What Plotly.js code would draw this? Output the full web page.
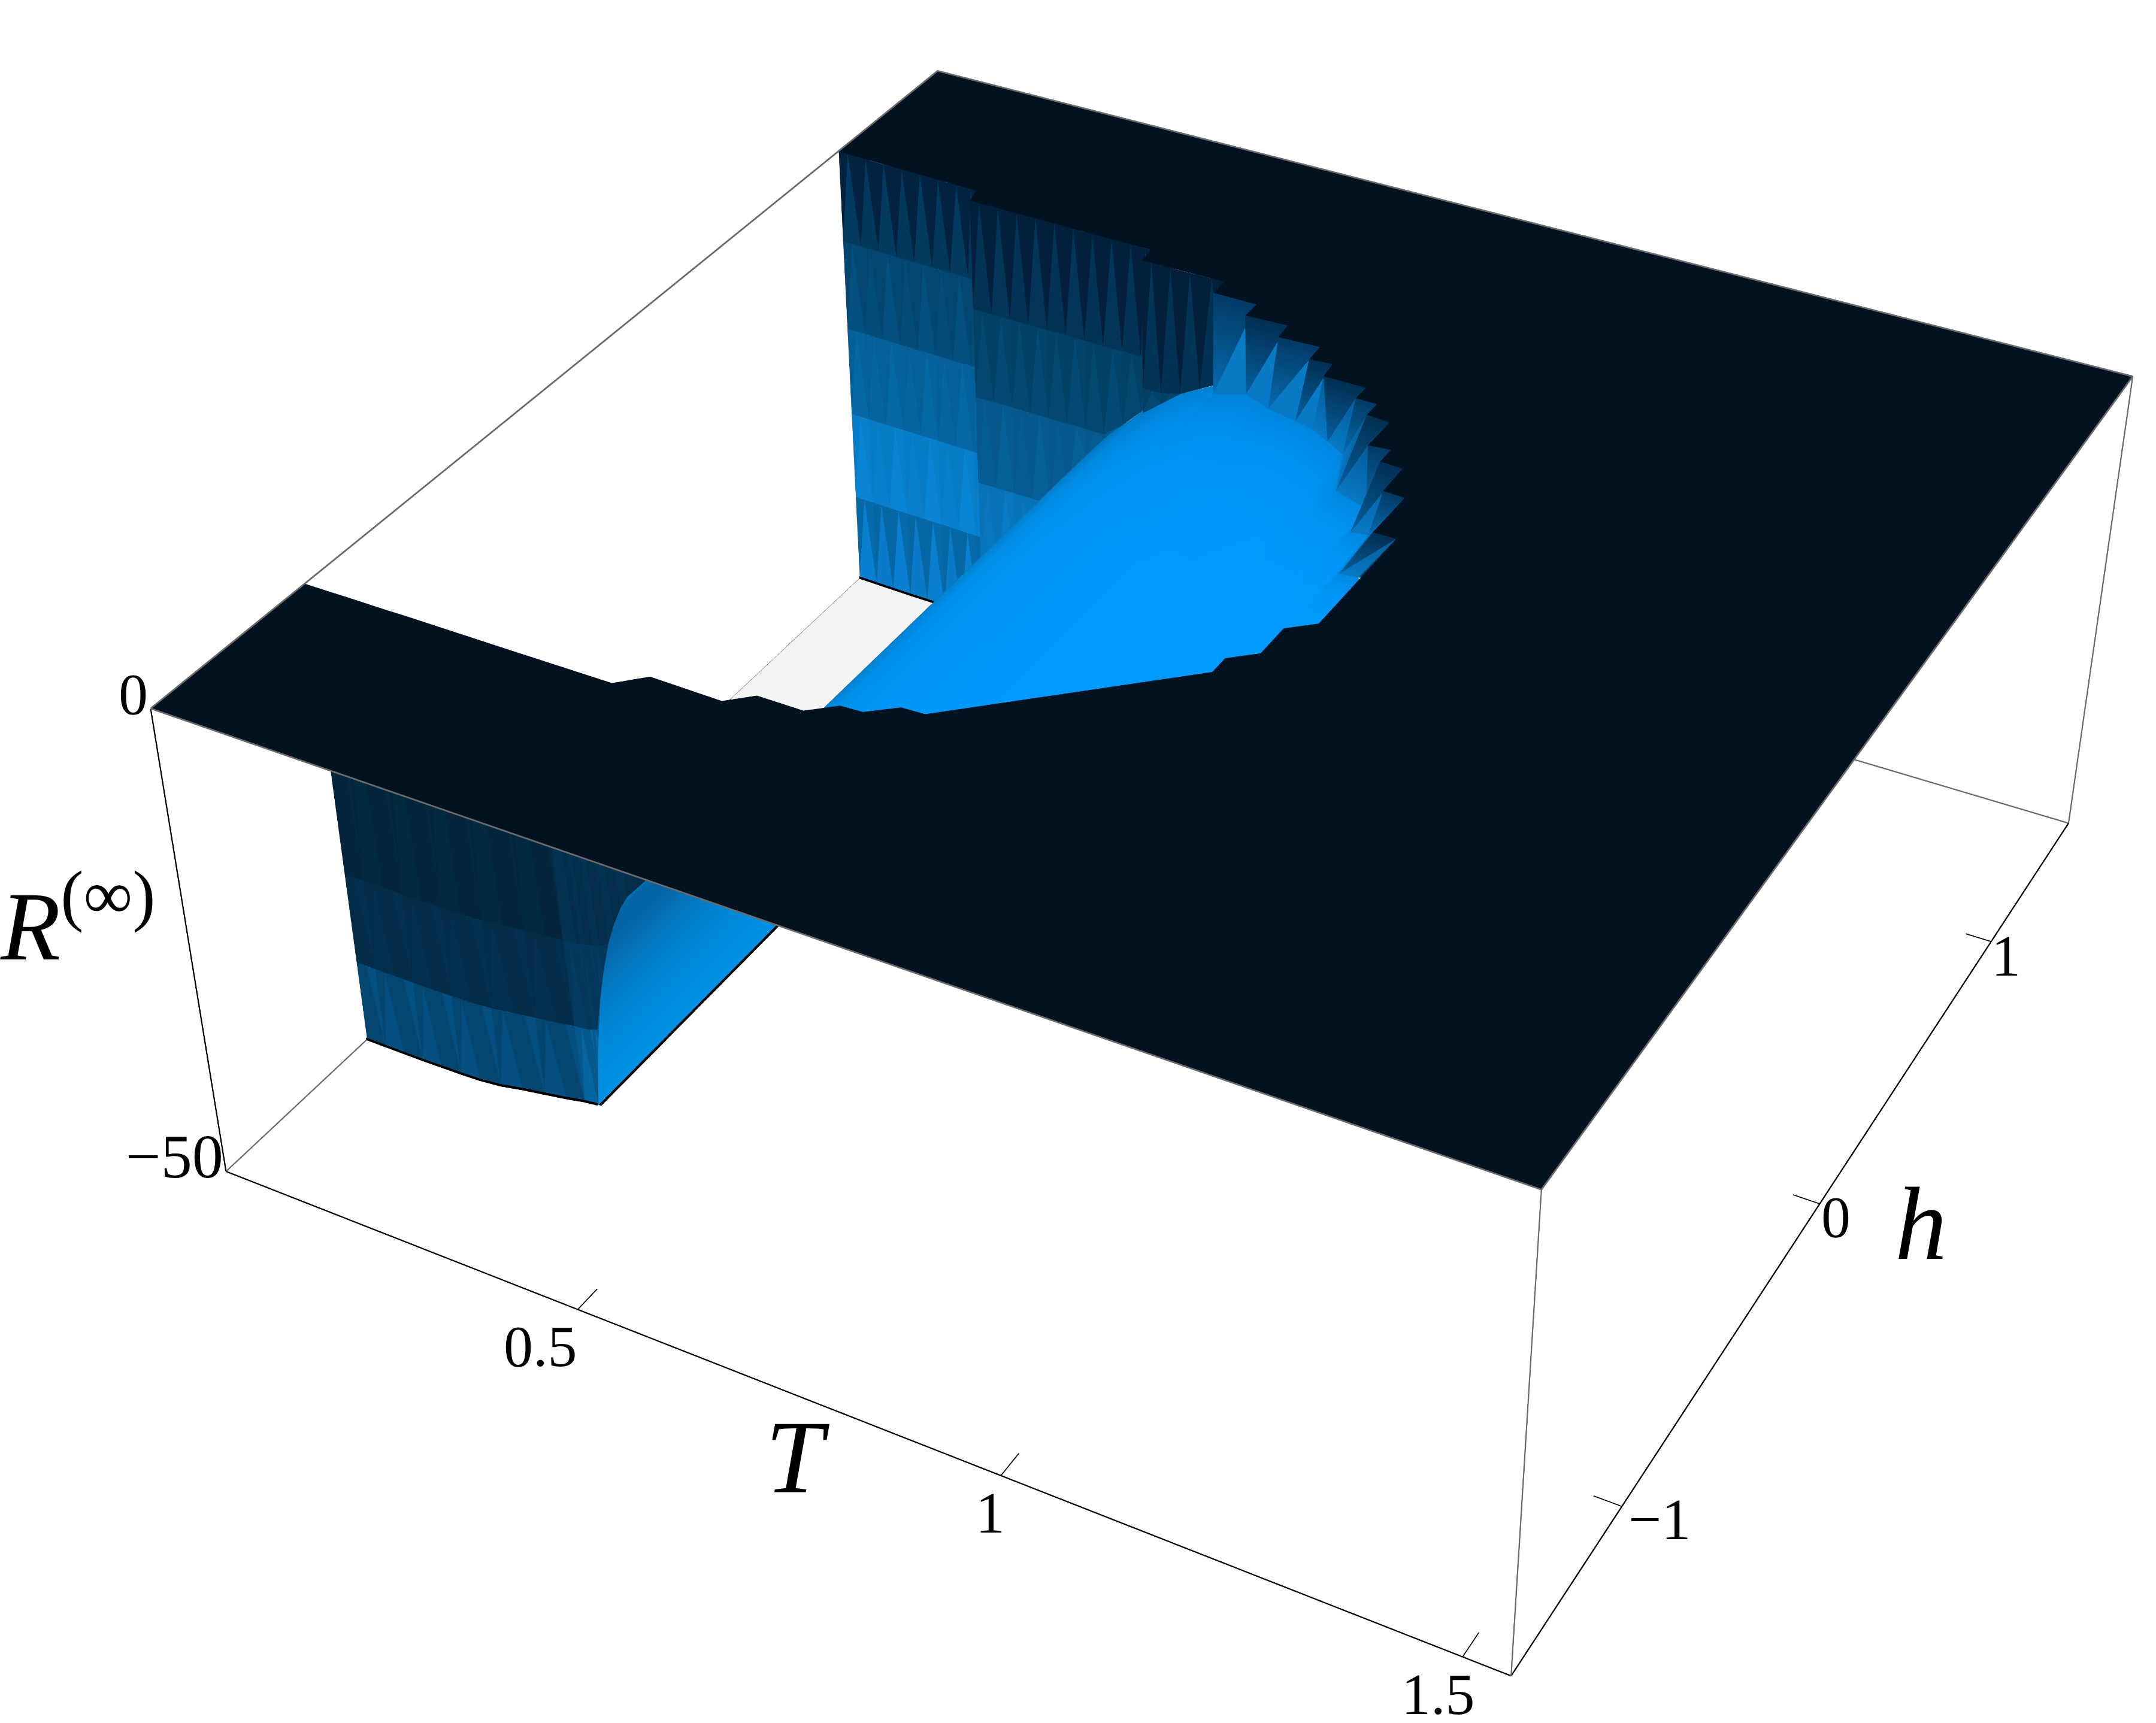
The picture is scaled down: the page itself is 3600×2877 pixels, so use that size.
<!DOCTYPE html><html><head><meta charset="utf-8"><script src="https://cdn.plot.ly/plotly-3.0.1.min.js"></script></head><body style="margin:0;background:#fff">
<div id="g" style="width:3600px;height:2877px;position:absolute;left:0;top:0"></div>
<script>
// ---- axis ranges and ticks
var Trange=[0.05,1.55], hrange=[-1.5,1.5], Rrange=[-50,0];
var Tticks=[0.5,1,1.5], hticks=[-1,0,1];
// ---- boundary of the clipped hole in the R=0 sheet (far side, round the tip, near side)
var holeT=[.05,.24,.245,.4835,.4865,.59,.5915,.6455,.6455,.6965,.6995,.749,.7505,.7775,.7805,.8315,.8315,.857,.857,.8855,.8855,.911,.911,.938,.9395,.965,.965,.992,.992,.992,.965,.965,.938,.938,.725,.698,.6695,.644,.617,.563,.5375,.452,.425,.05];
var holeH=[1.05,1.04,.993,.99,.939,.942,.888,.888,.834,.84,.786,.792,.735,.741,.687,.687,.639,.639,.591,.585,.483,.489,.438,.435,.339,.336,.189,.189,.027,-.159,-.207,-.306,-.354,-.408,-.798,-.801,-.849,-.852,-.9,-.9,-.948,-.945,-.999,-1.002];
// ---- R along T where the sheet comes back above -50
var rampT=[.3365,.34,.345,.352,.36,.37,.38,.39,.40,.425,.455,.4835,.535,.59,.6335,.98];
var rampR=[-50,-46,-42,-37.5,-34,-30.5,-28,-26,-24.5,-22,-19.5,-17,-13.5,-11,-10,-10];
// ---- ramp and lobe outline
var lobeT=[.3365,.34,.345,.352,.36,.37,.38,.39,.40,.425,.455,.4835,.4865,.535,.59,.5915,.6335,.6695,.7085,.734,.7595,.7865,.8135,.8585,.8645,.884,.89,.911,.94,.96,.98];
var lobeFarH=[.99,.99,.99,.99,.99,.99,.99,.99,.99,.99,.99,.99,.94,.94,.94,.888,.888,.858,.84,.825,.798,.765,.627,.594,.495,.504,.342,.348,.3,.2,.1];
var lobeNearH=[-.945,-.945,-.945,-.945,-.945,-.945,-.945,-.945,-.945,-.945,-.945,-.945,-.945,-.945,-.9,-.9,-.85,-.85,-.84,-.825,-.798,-.765,-.627,-.594,-.495,-.504,-.342,-.348,-.3,-.2,-.1];
var lobeColourT=[.3365,.345,.36,.375,.39,.41,.44,.48,.55,.7,.98];
var lobeColour=['#0090e4','#0086d6','#0670b4','#0560a0','#0368a8','#0580c8','#0088dc','#008ee8','#0094f4','#0099ff','#009cff'];
// ---- far wall columns
var farT=[.05,.075,.10,.125,.15,.175,.20,.225,.24,.245,.27,.295,.32,.345,.37,.395,.42,.445,.47,.4835,.4865,.51,.535,.56,.59];
var farH=[1.05,1.049,1.047,1.046,1.045,1.044,1.042,1.041,1.04,.993,.993,.993,.992,.992,.992,.991,.991,.991,.99,.99,.939,.94,.94,.941,.942];
// ---- near wall columns
var nearT=[.05,.075,.10,.125,.15,.175,.20,.225,.25,.275,.30,.32,.3365,.34,.345,.352,.36,.37,.38,.39,.40,.425];
var nearTopH=[-1.002,-1.002,-1.001,-1.001,-1.001,-1,-1,-1,-1,-1,-1,-1,-1,-1,-1,-1,-1,-1,-1,-1,-1,-.999];
var nearBotH=[-1.002,-1.002,-1.002,-1.002,-1.001,-1,-.998,-.992,-.98,-.97,-.96,-.95,-.945,-.945,-.945,-.945,-.945,-.945,-.945,-.945,-.945,-.945];
// ---- rim of the lobe, where teeth end
var rimT=[.59,.5915,.6335,.6695,.7085,.734,.7595,.7865,.8135,.8585,.8645,.884,.89,.911];
var rimH=[.942,.888,.888,.858,.84,.825,.798,.765,.627,.594,.495,.504,.342,.348];
// ---- palettes
var farBands=[['#022340','#023a60'],['#03466f','#04507e'],['#055f98','#0668a5'],['#087cc6','#0a85d5'],['#0568a5','#0a7fd0']];
var nearBandR=[0,-31,-41,-50];
var nearBands=[['#03243b','#03293f'],['#032c49','#032f4e'],['#04466f','#055080']];
var plane='#021220', floorC='#f4f4f4', greyLine='#6a6a6a';
// ---- camera found by matching the box corners
var eye=[1.2726,-2.3688,1.9563], ctr=[-.0162,-.1305,0], roll=-.0163, focal=7784, aspY=1.0083, aspZ=.4001, H=2877, pad=1.02;

function lookup(xs,ys,x){if(x<=xs[0])return ys[0];for(var i=1;i<xs.length;i++)if(x<=xs[i]){var f=(x-xs[i-1])/(xs[i]-xs[i-1]||1);return ys[i-1]+f*(ys[i]-ys[i-1])}return ys[ys.length-1]}
function R0(T){return T<=rampT[0]?-50:lookup(rampT,rampR,T)}
function hex(c){return[parseInt(c.substr(1,2),16),parseInt(c.substr(3,2),16),parseInt(c.substr(5,2),16)]}
function css(a){return'rgb('+a.map(function(v){return Math.max(0,Math.min(255,Math.round(v)))}).join(',')+')'}
function shade(c,f){return css(hex(c).map(function(v){return v*f}))}
function lobeCol(T,f){var i=0;while(i<lobeColourT.length-2&&T>lobeColourT[i+1])i++;var g=Math.max(0,Math.min(1,(T-lobeColourT[i])/(lobeColourT[i+1]-lobeColourT[i])));var a=hex(lobeColour[i]),b=hex(lobeColour[i+1]);return css([0,1,2].map(function(k){return(a[k]+g*(b[k]-a[k]))*f}))}
function Mesh(){var m={x:[],y:[],z:[],i:[],j:[],k:[],vertexcolor:[],type:'mesh3d',flatshading:true,hoverinfo:'skip',showscale:false,lighting:{ambient:1,diffuse:0,specular:0,roughness:1,fresnel:0},lightposition:{x:0,y:0,z:1e4}};
 m.tri=function(p,q,r,a,b,c){var n=m.x.length;[p,q,r].forEach(function(v){m.x.push(v[0]);m.y.push(v[1]);m.z.push(v[2])});m.vertexcolor.push(a,b||a,c||a);m.i.push(n);m.j.push(n+1);m.k.push(n+2)};return m}
function finish(m){delete m.tri;return m}
function earclip(P){var idx=P.map(function(_,i){return i}),out=[];var area=0;P.forEach(function(p,i){var q=P[(i+1)%P.length];area+=p[0]*q[1]-q[0]*p[1]});var sgn=area>0?1:-1;
 function cr(a,b,c){return sgn*((b[0]-a[0])*(c[1]-a[1])-(b[1]-a[1])*(c[0]-a[0]))}
 var guard=0;while(idx.length>3&&guard++<100000){var done=false;for(var n=0;n<idx.length;n++){var a=idx[(n+idx.length-1)%idx.length],b=idx[n],c=idx[(n+1)%idx.length];var v=cr(P[a],P[b],P[c]);if(v<0)continue;if(v<1e-12){idx.splice(n,1);done=true;break}var ok=true;for(var w=0;w<idx.length;w++){var d=idx[w];if(d==a||d==b||d==c)continue;if(cr(P[a],P[b],P[d])>=-1e-12&&cr(P[b],P[c],P[d])>=-1e-12&&cr(P[c],P[a],P[d])>=-1e-12){ok=false;break}}if(ok){out.push([a,b,c]);idx.splice(n,1);done=true;break}}if(!done)break}
 if(idx.length==3)out.push(idx.slice());return out}
var poly=[[Trange[0],hrange[0]]];for(var i=holeT.length-1;i>=0;i--)poly.push([holeT[i],holeH[i]]);poly.push([Trange[0],hrange[1]],[Trange[1],hrange[1]],[Trange[1],hrange[0]]);
var tris=earclip(poly);
var sheet={type:'mesh3d',x:poly.map(function(p){return p[0]}),y:poly.map(function(p){return p[1]}),z:poly.map(function(){return 0}),i:tris.map(function(t){return t[0]}),j:tris.map(function(t){return t[1]}),k:tris.map(function(t){return t[2]}),color:plane,flatshading:true,hoverinfo:'skip',lighting:{ambient:1,diffuse:0,specular:0,roughness:1,fresnel:0}};
// ---- far wall
var fw=Mesh();
function bandCols(T){return T<.242?{s:0,f:1}:T<.485?{s:2,f:.92}:{s:4,f:.9}}
for(var c=0;c<farT.length-1;c++){var Ta=farT[c],Tb=farT[c+1],ha=farH[c],hb=farH[c+1],za=R0(Ta),zb=R0(Tb),sec=bandCols(Ta);
 for(var k=0;k<5;k++){var upper=k==0?0:-10*k-sec.s,lower=k==4?-50:-10*(k+1)-sec.s;var ta=Math.max(upper,za),tb=Math.max(upper,zb),ba=Math.max(lower,za),bb=Math.max(lower,zb);if(ta<=ba&&tb<=bb)continue;
  var A=shade(farBands[k][0],sec.f),B=shade(farBands[k][1],sec.f);var tm=[(Ta+Tb)/2,(ha+hb)/2,(ta+tb)/2];var alt=(c%2==0);
  fw.tri([Ta,ha,ba],[Tb,hb,bb],tm,alt?B:shade(farBands[k][1],sec.f*.96));fw.tri([Ta,ha,ta],tm,[Ta,ha,ba],A);fw.tri(tm,[Tb,hb,tb],[Tb,hb,bb],alt?shade(farBands[k][0],sec.f*1.03):A)}}
// ---- teeth between the hole rim and the lobe
var tw=Mesh();var topPts=[];for(i=5;i<=28;i++)topPts.push([holeT[i],holeH[i],0]);var botPts=rimT.map(function(t,n){return[t,rimH[n],R0(t)]});
var ia=0,ib=0,ord=0;while(ia<topPts.length-1||ib<botPts.length-1){var fa=ia/(topPts.length-1),fb=ib/(botPts.length-1);var advTop=ib==botPts.length-1||(ia<topPts.length-1&&fa<=fb);
 if(advTop){tw.tri(topPts[ia],topPts[ia+1],botPts[ib],ord%2?'#022f52':'#023a64',ord%2?'#022f52':'#023a64',ord%2?'#0660a0':'#076cb0');ia++}
 else{tw.tri(botPts[ib],botPts[ib+1],topPts[ia],'#0878c4','#0878c4',ord%3?'#055c98':'#087cc8');ib++}ord++}
// ---- lobe and ramp
var lb=Mesh();var fracs=[0,.3,.6,.8,.92,1],fshade=[1,1,1,.985,.95,.88];
function pt(T,n,far,f){return[T,n+(far-n)*f,R0(T)]}
for(var r=0;r<lobeT.length-1;r++){for(var q=0;q<fracs.length-1;q++){var T1=lobeT[r],T2=lobeT[r+1];
 var p1=pt(T1,lobeNearH[r],lobeFarH[r],fracs[q]),p2=pt(T1,lobeNearH[r],lobeFarH[r],fracs[q+1]),p3=pt(T2,lobeNearH[r+1],lobeFarH[r+1],fracs[q+1]),p4=pt(T2,lobeNearH[r+1],lobeFarH[r+1],fracs[q]);
 var g1=T1<.4?1:fshade[q],g2=T1<.4?1:fshade[q+1];var c1=lobeCol(T1,g1),c2=lobeCol(T1,g2),c3=lobeCol(T2,g2),c4=lobeCol(T2,g1);
 lb.tri(p1,p2,p3,c1,c2,c3);lb.tri(p1,p3,p4,c1,c3,c4)}}
// ---- near wall
var nw=Mesh();function hz(n,z,zbot){var f=z/zbot;return nearTopH[n]+(nearBotH[n]-nearTopH[n])*f}
for(c=0;c<nearT.length-1;c++){var T1=nearT[c],T2=nearT[c+1];var z1=R0(T1),z2=R0(T2);for(k=0;k<3;k++){var zt=nearBandR[k],zb2=nearBandR[k+1];var ta=Math.max(zt,z1),tb=Math.max(zt,z2),ba=Math.max(zb2,z1),bb=Math.max(zb2,z2);if(ta<=ba&&tb<=bb)continue;
 var tl=[T1,hz(c,ta,z1),ta],bl=[T1,hz(c,ba,z1),ba],tr=[T2,hz(c+1,tb,z2),tb],br=[T2,hz(c+1,bb,z2),bb],tmn=[(T1+T2)/2,(tl[1]+tr[1])/2,(ta+tb)/2];
 var warm=T1>.3?1.25:1;nw.tri(bl,br,tmn,shade(nearBands[k][c%2],warm));nw.tri(tl,tmn,bl,shade(nearBands[k][0],warm));nw.tri(tmn,tr,br,shade(nearBands[k][(c+1)%2],warm))}}
// ---- floor visible through the hole
var fl=Mesh();var floorT=[.05,.12,.20,.24,.245,.30,.3365],floorNear=[-1.002,-1.002,-.998,-.985,-.983,-.96,-.945],floorFar=[1.05,1.045,1.042,1.04,.993,.992,.992];
for(c=0;c<floorT.length-1;c++){fl.tri([floorT[c],floorNear[c],-50],[floorT[c+1],floorNear[c+1],-50],[floorT[c+1],floorFar[c+1],-50],floorC);fl.tri([floorT[c],floorNear[c],-50],[floorT[c+1],floorFar[c+1],-50],[floorT[c],floorFar[c],-50],floorC)}
// ---- heavy black clip edges, drawn as narrow ribbons so they keep their width
var bk=Mesh(),edgeZ=.3,edgeT=.0035,nudge=.003;
function quad(m,a,b,cc,d,col){m.tri(a,b,cc,col);m.tri(a,cc,d,col)}
for(c=0;c<12;c++){quad(bk,[nearT[c],nearBotH[c]-nudge,-50],[nearT[c+1],nearBotH[c+1]-nudge,-50],[nearT[c+1],nearBotH[c+1]-nudge,-50+edgeZ],[nearT[c],nearBotH[c]-nudge,-50+edgeZ],'#000')}
for(c=0;c<floorT.length-1;c++){quad(bk,[floorT[c],floorFar[c]-nudge,-50],[floorT[c+1],floorFar[c+1]-nudge,-50],[floorT[c+1],floorFar[c+1]-nudge,-50+edgeZ],[floorT[c],floorFar[c]-nudge,-50+edgeZ],'#000')}
quad(bk,[rampT[0],nearBotH[12],-50],[rampT[0],.992,-50],[rampT[0]+edgeT,.992,-50],[rampT[0]+edgeT,nearBotH[12],-50],'#000');
// ---- lines
function L(xs,ys,zs,col,w){return{type:'scatter3d',mode:'lines',x:xs,y:ys,z:zs,line:{color:col,width:w},hoverinfo:'skip',showlegend:false}}
var t0=Trange[0],t1=Trange[1],h0=hrange[0],h1=hrange[1],zA=Rrange[0],zB=Rrange[1],lift=.06;
var lines=[
 L([t0,t0],[h0,h0],[zB,zA],'#000',4),L([t0,t1],[h0,h0],[zA,zA],'#000',4),L([t1,t1],[h0,h1],[zA,zA],'#000',4),
 L([t0,t0,t1,t1,t0],[h0,h1,h1,h0,h0],[zB+lift,zB+lift,zB+lift,zB+lift,zB+lift],greyLine,5),
 L([t1,t1],[h0,h0],[zB,zA],greyLine,4),L([t1,t1],[h1,h1],[zB,zA],greyLine,4),
 L([t0,t0],[h0,-.55],[zA,zA],greyLine,4),L([t0,t0],[-.55,h1],[zA,zA],'#555',1.5),L([t0,t1],[h1,h1],[zA,zA],greyLine,4)];
Tticks.forEach(function(t){lines.push(L([t,t],[h0,h0+.07],[zA,zA],'#000',3))});
hticks.forEach(function(h){lines.push(L([t1,t1-.03],[h,h],[zA,zA],'#000',3))});
// ---- up vector from the camera
function sub(a,b){return[a[0]-b[0],a[1]-b[1],a[2]-b[2]]}function dot(a,b){return a[0]*b[0]+a[1]*b[1]+a[2]*b[2]}function cross(a,b){return[a[1]*b[2]-a[2]*b[1],a[2]*b[0]-a[0]*b[2],a[0]*b[1]-a[1]*b[0]]}function nrm(a){var l=Math.sqrt(dot(a,a));return[a[0]/l,a[1]/l,a[2]/l]}
var fwd=nrm(sub(ctr,eye)),rgt=nrm(cross(fwd,[0,0,1])),upv=cross(rgt,fwd),crl=Math.cos(roll),srl=Math.sin(roll),up2=[-rgt[0]*srl+upv[0]*crl,-rgt[1]*srl+upv[1]*crl,-rgt[2]*srl+upv[2]*crl];
// ---- text
var F='"Liberation Serif","Times New Roman",serif',S=3600/1568;
function lab(txt,ox,oy,size,anchor){return{text:txt,xref:'paper',yref:'paper',x:ox*S/3600,y:1-oy*S/2877,xanchor:anchor||'center',yanchor:'middle',showarrow:false,font:{family:F,size:size,color:'#000'}}}
var ann=[lab('0',97,505,98),lab('−50',127,841,104),lab('<i>R</i><sup>(∞)</sup>',-1,668,164,'left'),
 lab('0.5',393,979,98),lab('1',720,1100,98),lab('1.5',1046,1232,98),lab('<i>T</i>',580,1060,174),
 lab('−1',1207,1105,98),lab('0',1335,885,98),lab('1',1459,695,98),lab('<i>h</i>',1397,890,174)];
var traces=[sheet,finish(fw),finish(tw),finish(lb),finish(nw),finish(fl),finish(bk)].concat(lines);
var ax={visible:false,showgrid:false,zeroline:false,showspikes:false};
function wide(a){var m=(a[0]+a[1])/2,d=(a[1]-a[0])/2*pad;return[m-d,m+d]}
Plotly.newPlot('g',traces,{width:3600,height:H,margin:{l:0,r:0,t:0,b:0,pad:0},paper_bgcolor:'#fff',showlegend:false,annotations:ann,scene:{domain:{x:[0,1],y:[0,1]},dragmode:'orbit',aspectmode:'manual',aspectratio:{x:pad,y:aspY*pad,z:aspZ*pad},bgcolor:'#fff',
 xaxis:Object.assign({range:wide(Trange)},ax),yaxis:Object.assign({range:wide(hrange)},ax),zaxis:Object.assign({range:wide(Rrange)},ax),
 camera:{eye:{x:eye[0],y:eye[1],z:eye[2]},center:{x:ctr[0],y:ctr[1],z:ctr[2]},up:{x:up2[0],y:up2[1],z:up2[2]},projection:{type:'perspective'}}}},{displayModeBar:false}).then(function(gd){
 var gp=gd._fullLayout.scene._scene.glplot;gp.fovy=2*Math.atan(H/2/focal);gp.redraw&&gp.redraw();setTimeout(function(){gp.redraw&&gp.redraw()},300)});
</script></body></html>
